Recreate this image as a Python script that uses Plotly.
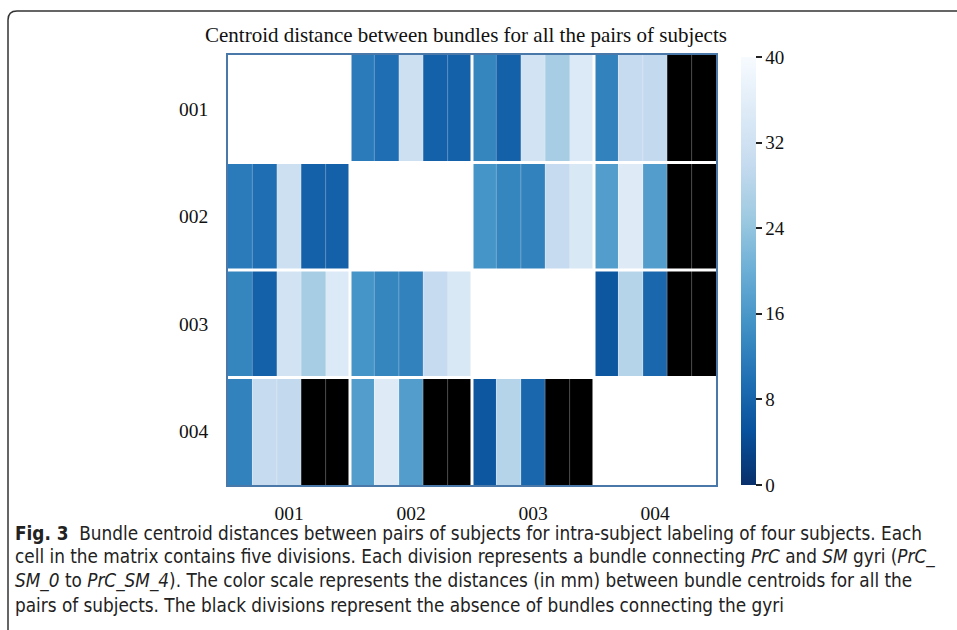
import plotly.graph_objects as go

# ---------------- data ----------------
subjects = ["001", "002", "003", "004"]
bundles = ["PrC_SM_0", "PrC_SM_1", "PrC_SM_2", "PrC_SM_3", "PrC_SM_4"]

# centroid distances (mm) per bundle for each pair of subjects; None = bundle absent
pair_001_002 = [11.5, 9.5, 31.5, 7.5, 7.5]
pair_001_003 = [13, 7.5, 32.5, 26, 34.5]
pair_001_004 = [12.5, 30, 29.5, None, None]
pair_002_003 = [15.5, 13, 12.5, 30, 34]
pair_002_004 = [17, 35, 17, None, None]
pair_003_004 = [6, 28, 8.5, None, None]

color_ticks = [0, 8, 16, 24, 32, 40]

pairs = {
    (0, 1): pair_001_002, (0, 2): pair_001_003, (0, 3): pair_001_004,
    (1, 2): pair_002_003, (1, 3): pair_002_004, (2, 3): pair_003_004,
}

n_sub = len(subjects)
n_b = len(bundles)
z_main = []
z_absent = []
for i in range(n_sub):
    row_m, row_a = [], []
    for j in range(n_sub):
        if i == j:
            vals = [None] * n_b
            absent = [None] * n_b
        else:
            vals = pairs[(min(i, j), max(i, j))]
            absent = [1 if v is None else None for v in vals]
        row_m += vals
        row_a += absent
    z_main.append(row_m)
    z_absent.append(row_a)

x_idx = list(range(n_sub * n_b))
y_idx = list(range(n_sub))

blues = ["#f7fbff", "#deebf7", "#c6dbef", "#9ecae1", "#6baed6",
         "#4292c6", "#2171b5", "#08519c", "#08306b"][::-1]
colorscale = [[k / (len(blues) - 1), c] for k, c in enumerate(blues)]

# ---------------- geometry ----------------
W, H = 957, 630
L, R, T, B = 228, 716, 55, 485
def px(x):
    return (x - L) / (R - L)
def py(y):
    return (B - y) / (B - T)

serif = "Liberation Serif, Times New Roman, serif"
sans = "Liberation Sans Narrow, DejaVu Sans Condensed, Roboto Condensed, Arial Narrow, sans-serif"

fig = go.Figure()
fig.add_trace(go.Heatmap(
    z=z_main, x=x_idx, y=y_idx, colorscale=colorscale, zmin=0, zmax=40,
    colorbar=dict(
        x=px(741), xanchor="left", xref="paper", thickness=15, xpad=0, ypad=0,
        len=428 / 430, lenmode="fraction", y=py(271), yanchor="middle",
        outlinewidth=0, tickvals=color_ticks, ticks="outside", ticklen=6,
        tickprefix="\u00a0",
        tickwidth=1.5, tickcolor="#222", tickfont=dict(family=serif, size=19, color="#111"),
    ),
    hoverongaps=False,
))
fig.add_trace(go.Heatmap(
    z=z_absent, x=x_idx, y=y_idx, colorscale=[[0, "black"], [1, "black"]],
    showscale=False, hoverongaps=False,
))

shapes = []
# thin translucent separators between divisions, thicker white gaps between cells
for k in range(1, n_sub * n_b):
    if k % n_b == 0:
        shapes.append(dict(type="line", xref="x", yref="paper", x0=k - 0.5, x1=k - 0.5,
                           y0=0, y1=1, line=dict(color="white", width=3)))
    else:
        shapes.append(dict(type="line", xref="x", yref="paper", x0=k - 0.5, x1=k - 0.5,
                           y0=0, y1=1, line=dict(color="rgba(255,255,255,0.3)", width=1)))
for r in range(1, n_sub):
    shapes.append(dict(type="line", xref="paper", yref="y", x0=0, x1=1, y0=r - 0.5, y1=r - 0.5,
                       line=dict(color="white", width=3)))
# outer rounded frame of the figure
fx0, fy0, rad = 8, 11, 9
path = (f"M {px(fx0)},{py(640)} L {px(fx0)},{py(fy0 + rad)} "
        f"Q {px(fx0)},{py(fy0)} {px(fx0 + rad)},{py(fy0)} L {px(970)},{py(fy0)}")
shapes.append(dict(type="path", xref="paper", yref="paper", path=path,
                   line=dict(color="#333", width=1.5)))

annotations = [dict(
    text="Centroid distance between bundles for all the pairs of subjects",
    xref="paper", yref="paper", x=px(466), y=py(35), xanchor="center", yanchor="middle",
    showarrow=False, font=dict(family=serif, size=21, color="#111"),
)]
caption = [
    "<b>Fig. 3</b>  Bundle centroid distances between pairs of subjects for intra-subject labeling of four subjects. Each",
    "cell in the matrix contains five divisions. Each division represents a bundle connecting <i>PrC</i> and <i>SM</i> gyri (<i>PrC_</i>",
    "<i>SM_0</i> to <i>PrC_SM_4</i>). The color scale represents the distances (in mm) between bundle centroids for all the",
    "pairs of subjects. The black divisions represent the absence of bundles connecting the gyri",
]
cap_y = [533, 557, 581, 605]
for t, yy in zip(caption, cap_y):
    annotations.append(dict(text=t, xref="paper", yref="paper", x=px(13), y=py(yy),
                            xanchor="left", yanchor="middle", showarrow=False,
                            font=dict(family=sans, size=18.8, color="#222")))

axis_line = "#4a78a8"
fig.update_layout(
    width=W, height=H,
    margin=dict(l=L, r=W - R, t=T, b=H - B, pad=0),
    paper_bgcolor="white", plot_bgcolor="white",
    shapes=shapes, annotations=annotations, showlegend=False,
    xaxis=dict(range=[-0.5, n_sub * n_b - 0.5], tickvals=[n_b * k + (n_b - 1) / 2 for k in range(n_sub)],
               ticktext=subjects, ticks="", showgrid=False, zeroline=False,
               showline=True, mirror=True, linecolor=axis_line, linewidth=1.5,
               tickfont=dict(family=serif, size=19.5, color="#111"), ticklabelstandoff=10),
    yaxis=dict(range=[n_sub - 0.5, -0.5], tickvals=y_idx, ticktext=subjects, ticks="",
               showgrid=False, zeroline=False, showline=True, mirror=True,
               linecolor=axis_line, linewidth=1.5,
               tickfont=dict(family=serif, size=19.5, color="#111"), ticklabelstandoff=14),
)

fig.write_html("out.html", config={"displayModeBar": False},
               post_script="document.body.style.margin='0';document.body.style.overflow='hidden';")
